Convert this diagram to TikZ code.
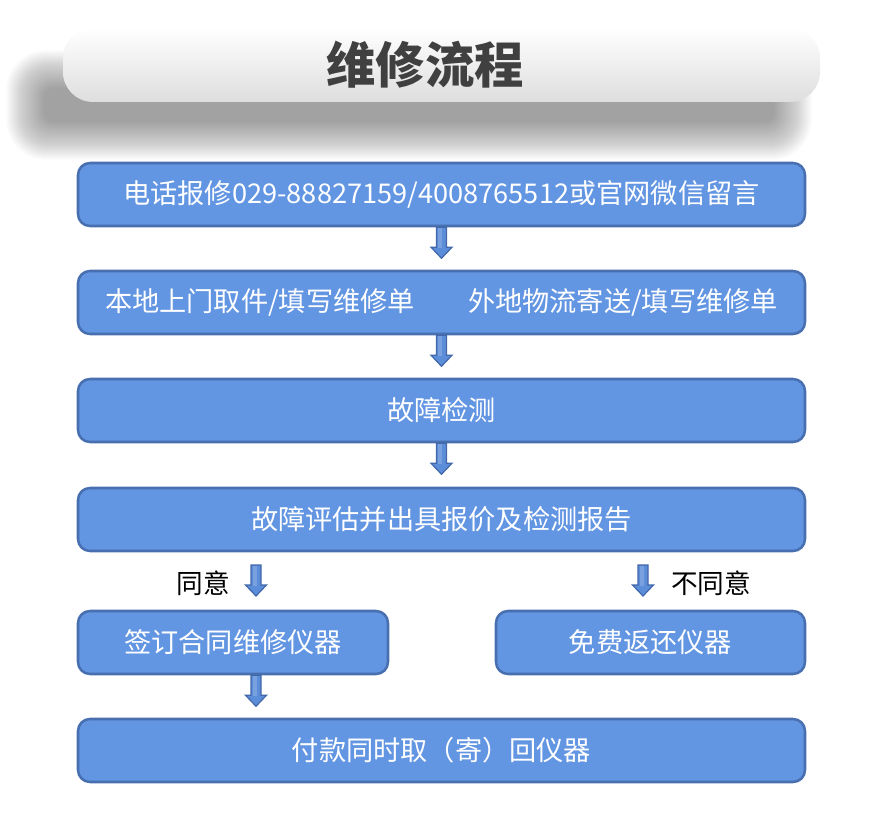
\documentclass[tikz,border=0pt]{standalone}
\usepackage{fontspec}
\setmainfont{Noto Sans CJK SC}
\usetikzlibrary{positioning}
\definecolor{boxfill}{RGB}{98,149,226}
\definecolor{boxline}{RGB}{72,112,176}
\definecolor{arrfill}{RGB}{92,141,216}
\definecolor{arrline}{RGB}{66,104,170}
\definecolor{titlegray}{RGB}{64,64,64}

\begin{document}
\begin{tikzpicture}[x=0.75pt, y=-0.75pt,
    stepbox/.style={draw=boxline, fill=boxfill, line width=1.9pt, rounded corners=9pt,
        minimum width=545.25pt, minimum height=47.25pt, text=white,
        font=\fontsize{20.4}{22}\selectfont},
    halfbox/.style={stepbox, minimum width=232.5pt},
    boxtext/.style={text=white, font=\fontsize{20.4}{22}\selectfont, inner sep=0pt},
    note/.style={text=black, font=\fontsize{20}{22}\selectfont, inner sep=0pt},
    titletext/.style={text=titlegray, font=\fontsize{37}{40}\selectfont\bfseries},
    arrowbody/.style={draw=arrline, fill=arrfill, line width=0.9pt, line join=miter},
    downarr/.pic={
        \filldraw[arrowbody] (-5,0) -- (5,0) -- (5,20) -- (10.5,20) -- (0,31)
            -- (-10.5,20) -- (-5,20) -- cycle;
        \fill[white, opacity=0.18] (-3.5,1) rectangle (0.5,21);
    }]
    \useasboundingbox (0,0) rectangle (879,827);

    % title with its soft shadow
    \foreach \k [evaluate=\k as \r using 30-0.6*\k] in {0,...,38}
        \fill[black, opacity=0.0135, rounded corners=\r pt] (6+\k,50+\k) rectangle (812-\k,160-\k);
    \shade[top color=white, bottom color=black!13, rounded corners=22.5pt] (63,28) rectangle (820,102);
    \node[titletext] (title) at (425,65) {维修流程};

    % steps
    \node[stepbox] (call) at (441.5,194.5) {电话报修029-88827159/4008765512或官网微信留言};
    \node[stepbox] (pickup) at (441.5,302.5) {};
    \node[boxtext] (local) at (260,302.5) {本地上门取件/填写维修单};
    \node[boxtext] (remote) at (623,302.5) {外地物流寄送/填写维修单};
    \node[stepbox] (detect) at (441.5,410.5) {故障检测};
    \node[stepbox] (quote) at (441.5,519.5) {故障评估并出具报价及检测报告};
    \node[halfbox] (sign) at (233,642.5) {签订合同维修仪器};
    \node[halfbox, minimum width=231.75pt] (giveback) at (650.5,642.5) {免费返还仪器};
    \node[stepbox] (pay) at (441.5,750.5) {付款同时取（寄）回仪器};

    % choices
    \coordinate (agree) at (256,565);
    \coordinate (refuse) at (643,565);
    \node[note] (yes) at (203,583) {同意};
    \node[note] (no) at (711,583) {不同意};

    % arrows
    \pic at (call.south) {downarr};
    \pic at (pickup.south) {downarr};
    \pic at (detect.south) {downarr};
    \pic at (agree) {downarr};
    \pic at (refuse) {downarr};
    \pic at (sign.south -| agree) {downarr};
\end{tikzpicture}
\end{document}
